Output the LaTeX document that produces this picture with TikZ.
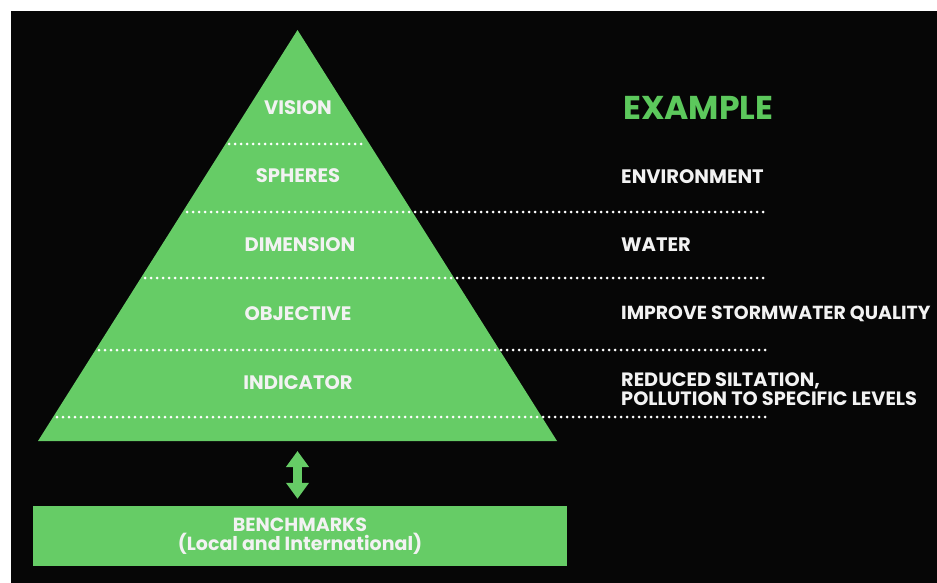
\documentclass[tikz,border=0pt]{standalone}
\usepackage{fontspec}
\setmainfont{Poppins}
\usetikzlibrary{arrows.meta}
\definecolor{pgreen}{RGB}{102,204,102}
\definecolor{egreen}{RGB}{92,200,92}
\definecolor{bgblack}{RGB}{6,6,6}
\definecolor{wtext}{RGB}{242,242,242}
\begin{document}
\begin{tikzpicture}[x=1pt,y=-1pt,
  lbl/.style={text=wtext,font=\fontsize{19.5}{19}\selectfont\bfseries,inner sep=0pt},
  exlbl/.style={lbl,anchor=west},
  dotline/.style={draw=white,line width=3pt,line cap=round,dash pattern=on 0pt off 6pt}]
\useasboundingbox (0,0) rectangle (937,583);
\fill[white] (0,0) rectangle (937,583);
\fill[bgblack] (11,11) rectangle (937,583);
% pyramid
\fill[pgreen] (297.5,30) -- (557,441) -- (38,441) -- cycle;
\coordinate (pyrbase) at (297.5,441);
% dotted separators
\coordinate (d1l) at (229,144); \coordinate (d1r) at (366,144);
\coordinate (d2l) at (187,212); \coordinate (d2r) at (767,212);
\coordinate (d3l) at (145,278); \coordinate (d3r) at (767,278);
\coordinate (d4l) at (99,350);  \coordinate (d4r) at (767,350);
\coordinate (d5l) at (57,417);  \coordinate (d5r) at (767,417);
\draw[dotline] (d1l) -- (d1r);
\draw[dotline] (d2l) -- (d2r);
\draw[dotline] (d3l) -- (d3r);
\draw[dotline] (d4l) -- (d4r);
\draw[dotline] (d5l) -- (d5r);
% pyramid labels
\node[lbl] (vision) at (298,108) {VISION};
\node[lbl] (spheres) at (298,176) {SPHERES};
\node[lbl] (dimension) at (300,245) {DIMENSION};
\node[lbl] (objective) at (298,314) {OBJECTIVE};
\node[lbl] (indicator) at (298,383) {INDICATOR};
% example column
\node[anchor=west,text=egreen,inner sep=0pt,font=\fontsize{33}{33}\selectfont\bfseries] (example) at (623,108) {EXAMPLE};
\node[exlbl] (environment) at (621,177) {ENVIRONMENT};
\node[exlbl] (water) at (621,245) {WATER};
\node[exlbl,font=\fontsize{18.9}{19}\selectfont\bfseries] (improve) at (621,314) {IMPROVE STORMWATER QUALITY};
\node[exlbl,align=left,font=\fontsize{19.3}{18.5}\selectfont\bfseries] (reduced) at (621,389) {REDUCED SILTATION,\\POLLUTION TO SPECIFIC LEVELS};
% benchmarks
\node[fill=pgreen,minimum width=534pt,minimum height=60pt,inner sep=0pt,
      text=wtext,align=center,font=\fontsize{19}{19}\selectfont\bfseries] (bench) at (300,536)
      {BENCHMARKS\\(Local and International)};
\draw[pgreen,line width=9pt,{Triangle[width=22pt,length=16pt]}-{Triangle[width=22pt,length=16pt]},
      shorten <=10pt,shorten >=7pt] (pyrbase) -- (pyrbase |- bench.north);
\end{tikzpicture}
\end{document}
